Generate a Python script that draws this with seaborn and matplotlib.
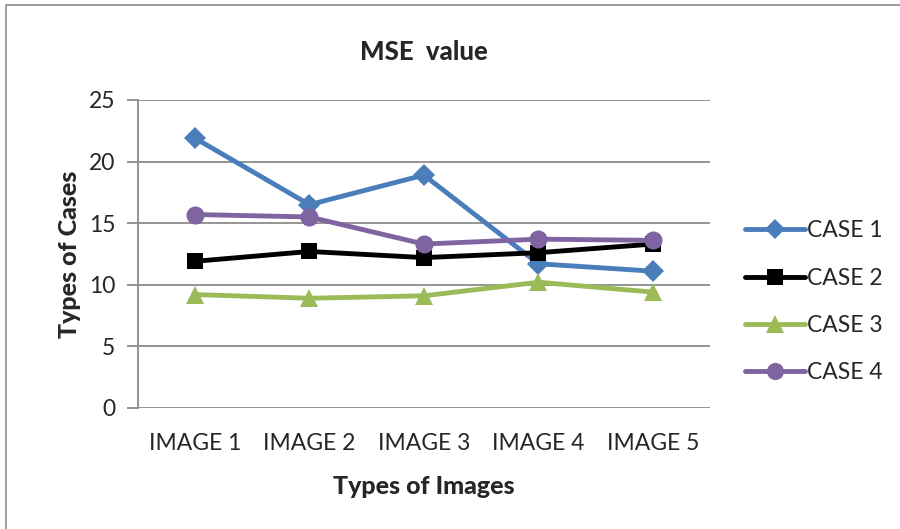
import matplotlib
matplotlib.use("Agg")
import matplotlib.pyplot as plt
import seaborn as sns
import pandas as pd
from matplotlib.patches import Rectangle

images = ["IMAGE 1", "IMAGE 2", "IMAGE 3", "IMAGE 4", "IMAGE 5"]
case1 = [21.9, 16.5, 18.9, 11.7, 11.1]
case2 = [11.9, 12.7, 12.2, 12.6, 13.3]
case3 = [9.2, 8.9, 9.1, 10.2, 9.4]
case4 = [15.7, 15.5, 13.3, 13.7, 13.6]
case_names = ["CASE 1", "CASE 2", "CASE 3", "CASE 4"]
y_ticks = [0, 5, 10, 15, 20, 25]

df = pd.DataFrame({
    "image": images * 4,
    "value": case1 + case2 + case3 + case4,
    "case": sum([[c] * len(images) for c in case_names], []),
})

sns.set_theme(style="white")
plt.rcParams["font.family"] = ["Lato", "DejaVu Sans"]

colors = ["#4a7ebb", "#000000", "#9bbb59", "#8064a2"]
markers = ["D", "s", "^", "o"]
sizes = [11, 12, 13, 13]

fig = plt.figure(figsize=(9, 5.29), dpi=100)
ax = fig.add_axes([0.153, 0.229, 0.636, 0.582])

for name, col, mk, ms in zip(case_names, colors, markers, sizes):
    sub = df[df["case"] == name]
    sns.lineplot(data=sub, x="image", y="value", ax=ax, color=col, marker=mk,
                 markersize=ms, markeredgewidth=0, linewidth=3.5, label=name,
                 sort=False)

ax.set_xlim(-0.5, 4.5)
ax.set_ylim(0, 25)
ax.set_yticks(y_ticks)
ax.yaxis.grid(True, color="#8c8c8c", linewidth=1.3)
ax.set_axisbelow(True)
for s in ["top", "right", "bottom"]:
    ax.spines[s].set_visible(False)
ax.spines["left"].set_color("#8c8c8c")
ax.spines["left"].set_linewidth(1.3)
ax.tick_params(axis="y", which="major", left=True, length=8, width=1.3,
               color="#8c8c8c", labelsize=16.5, pad=8)
ax.tick_params(axis="x", bottom=False, labelsize=16.5, pad=12)

ax.set_xlabel("Types of Images", fontsize=18, fontweight=900, labelpad=15)
ax.set_ylabel("Types of Cases", fontsize=18, fontweight=900, labelpad=6)
ax.set_title("MSE  value", fontsize=18.5, fontweight=900, pad=29)

leg = ax.legend(loc="center left", bbox_to_anchor=(1.025, 0.344), frameon=False,
                fontsize=16.5, handlelength=2.6, labelspacing=1.15,
                handletextpad=0.1, markerscale=0.95)

fig.patches.append(Rectangle((6 / 900, -0.1), 1.2, 1 - 5 / 529 + 0.1,
                             transform=fig.transFigure, fill=False,
                             edgecolor="#8c8c8c", linewidth=1.2))

fig.savefig("out.png", dpi=100)
